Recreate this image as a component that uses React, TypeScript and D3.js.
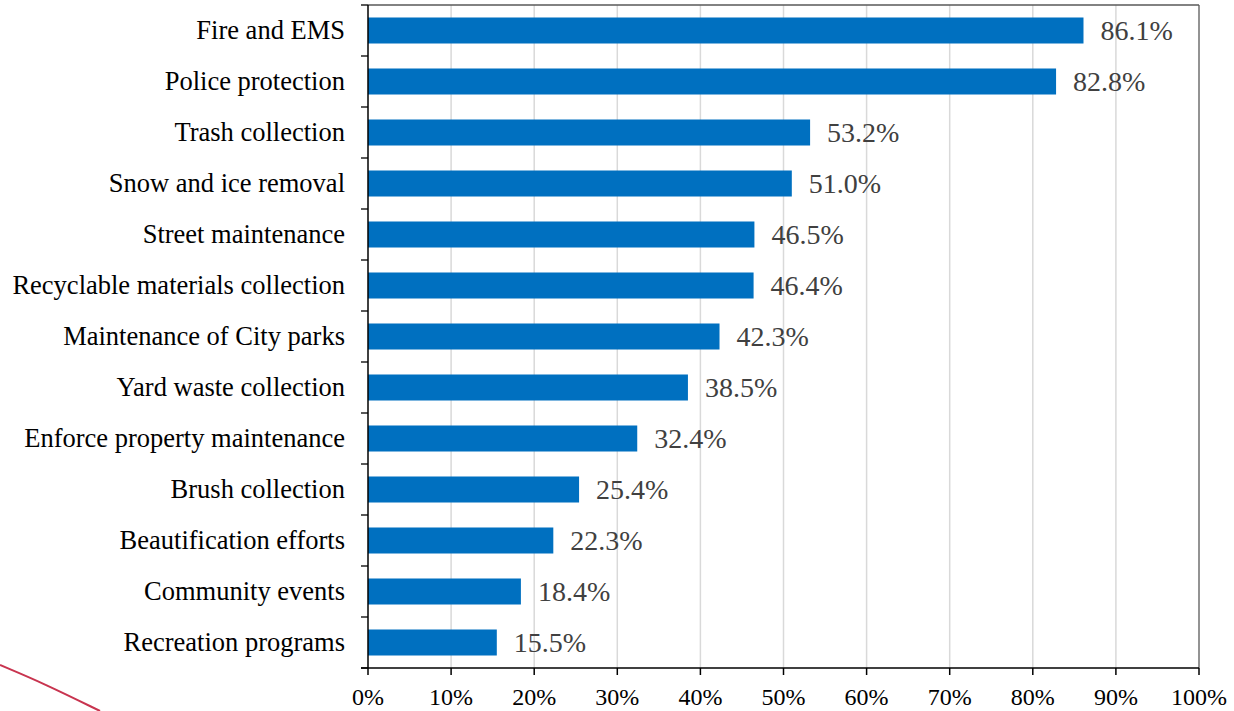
import React from "react";
import * as d3 from "d3";

const categories = [
  "Fire and EMS",
  "Police protection",
  "Trash collection",
  "Snow and ice removal",
  "Street maintenance",
  "Recyclable materials collection",
  "Maintenance of City parks",
  "Yard waste collection",
  "Enforce property maintenance",
  "Brush collection",
  "Beautification efforts",
  "Community events",
  "Recreation programs",
];
const values = [86.1, 82.8, 53.2, 51.0, 46.5, 46.4, 42.3, 38.5, 32.4, 25.4, 22.3, 18.4, 15.5];
const xTicks = [0, 10, 20, 30, 40, 50, 60, 70, 80, 90, 100];

const W = 1234;
const H = 711;
const M = { left: 368, right: 35, top: 5, bottom: 43 };
const FONT = "'Liberation Serif', 'Times New Roman', serif";

export default function App() {
  const x = d3.scaleLinear().domain([0, 100]).range([M.left, W - M.right]);
  const y = d3
    .scaleBand<string>()
    .domain(categories)
    .range([M.top, H - M.bottom])
    .paddingInner(0.49)
    .paddingOuter(0.245);
  const x0 = x(0);
  const yBottom = H - M.bottom;
  const boundaries = d3.range(categories.length + 1).map((i) => M.top + i * ((yBottom - M.top) / categories.length));
  const curve = d3.line().curve(d3.curveBasis)([
    [0, 665],
    [45, 684],
    [100, 711],
  ]);

  return (
    <svg
      width={W}
      height={H}
      style={{ position: "absolute", left: 0, top: 0, background: "#fff" }}
      fontFamily={FONT}
    >
      {xTicks.slice(1, -1).map((t) => (
        <line key={"g" + t} x1={x(t)} x2={x(t)} y1={M.top} y2={yBottom} stroke="#d9d9d9" strokeWidth={1.5} />
      ))}
      <line x1={x0} x2={x(100)} y1={M.top} y2={M.top} stroke="#595959" strokeWidth={1.3} />
      <line x1={x(100)} x2={x(100)} y1={M.top} y2={yBottom} stroke="#595959" strokeWidth={1.3} />
      {categories.map((c, i) => (
        <rect key={c} x={x0} y={y(c)} width={x(values[i]) - x0} height={y.bandwidth()} fill="#0070C0" />
      ))}
      {categories.map((c, i) => (
        <text
          key={"v" + c}
          x={x(values[i]) + 17}
          y={(y(c) as number) + y.bandwidth() / 2}
          dy="0.35em"
          fontSize={28}
          fill="#404040"
        >
          {values[i].toFixed(1)}%
        </text>
      ))}
      {categories.map((c) => (
        <text
          key={"c" + c}
          x={M.left - 23}
          y={(y(c) as number) + y.bandwidth() / 2}
          dy="0.33em"
          textAnchor="end"
          fontSize={26.5}
          fill="#000"
        >
          {c}
        </text>
      ))}
      <line x1={x0} x2={x0} y1={M.top} y2={yBottom} stroke="#000" strokeWidth={1.5} />
      {boundaries.map((b, i) => (
        <line key={"yt" + i} x1={x0 - 7} x2={x0} y1={b} y2={b} stroke="#000" strokeWidth={1.3} />
      ))}
      <line x1={x0 - 7} x2={x(100)} y1={yBottom} y2={yBottom} stroke="#000" strokeWidth={1.5} />
      {xTicks.map((t) => (
        <g key={"xt" + t}>
          <line x1={x(t)} x2={x(t)} y1={yBottom} y2={yBottom + 7} stroke="#000" strokeWidth={1.5} />
          <text x={x(t)} y={yBottom + 37} textAnchor="middle" fontSize={24} fill="#000">
            {t}%
          </text>
        </g>
      ))}
      <path d={curve || ""} fill="none" stroke="#c8344f" strokeWidth={2} />
    </svg>
  );
}
